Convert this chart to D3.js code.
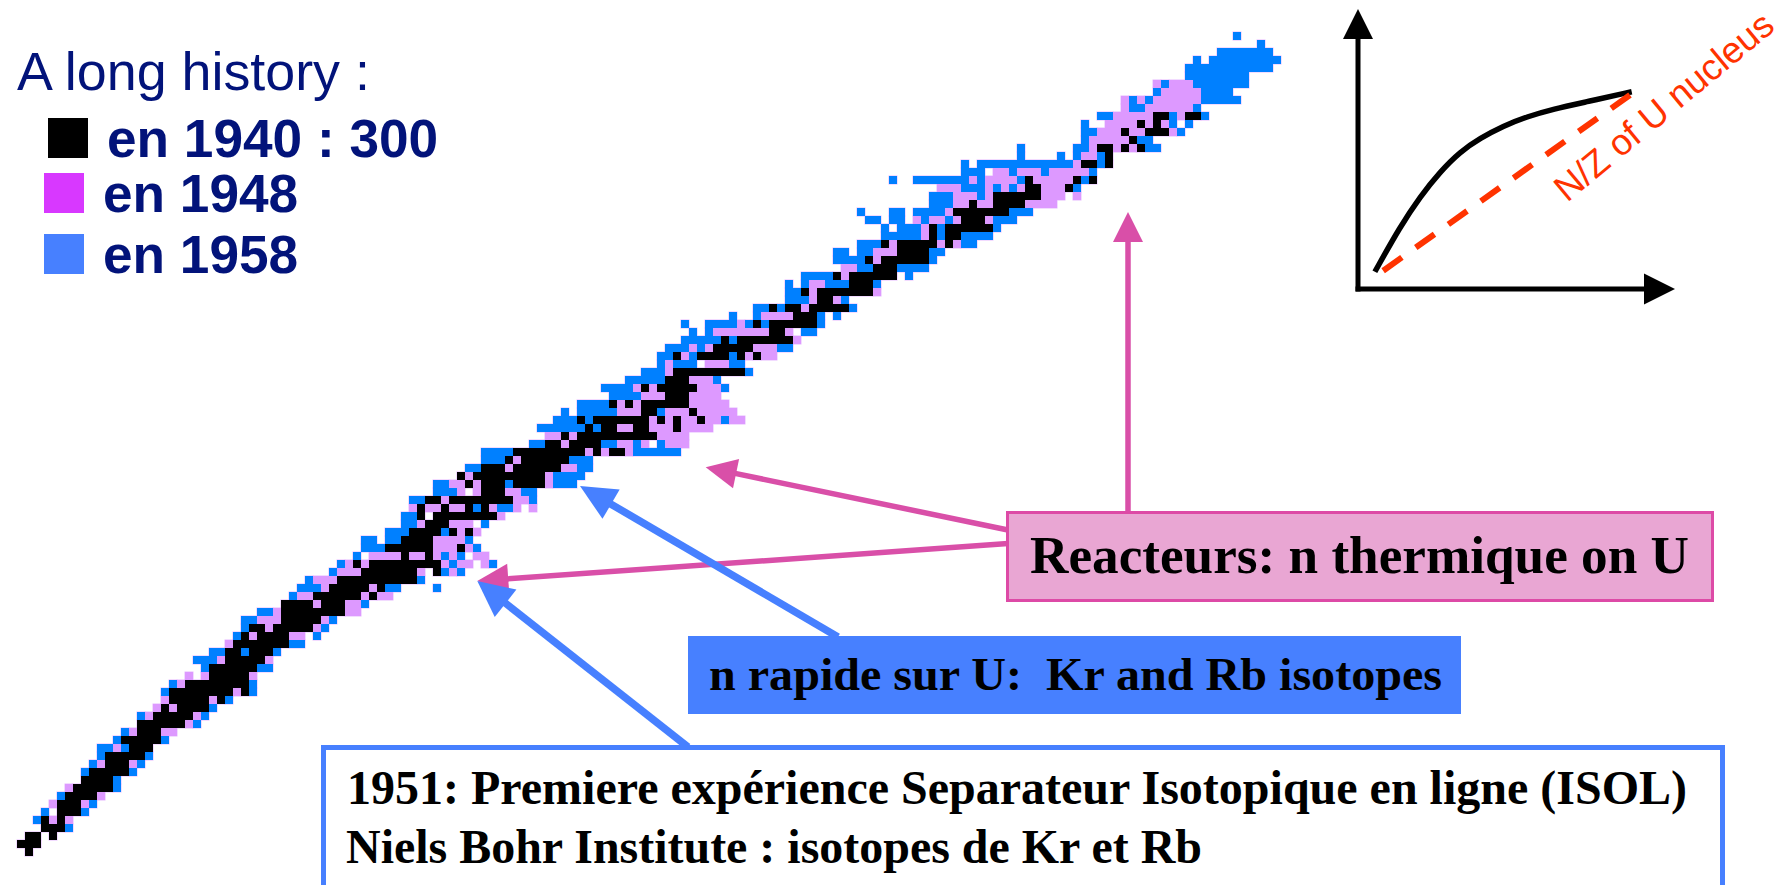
<!DOCTYPE html>
<html>
<head>
<meta charset="utf-8">
<title>A long history</title>
<script src="https://cdn.jsdelivr.net/npm/d3@7"></script>
<style>
    html, body { margin: 0; padding: 0; background: #fff; overflow: hidden; }
    text { white-space: pre; }
    .sans { font-family: "Liberation Sans", Arial, sans-serif; }
    .serif { font-family: "Liberation Serif", "Times New Roman", serif; font-weight: bold; fill: #000; }
</style>
</head>
<body>
<svg id="chart" width="1787" height="885"></svg>
<script>
// nuclide chart: [row from the top, first column, last column (if more than one)]
const known1940 = [
[14,142,143],[14,146,147],[15,140],[15,142],[16,138],[16,141,143],[17,139],[18,135,136],[18,138],[18,140],
[19,136],[20,133,134],[20,136],[22,126],[22,132],[22,134],[23,126,127],[23,131],[24,122,127],[25,119],[25,122,125],
[26,117,123],[27,118,120],[28,114],[28,116,121],[29,114],[29,116,117],[30,108],[30,110,114],[30,116],[31,110,113],
[32,106],[32,108,113],[33,107,109],[34,102],[34,104,109],[35,104,106],[36,98],[36,100,106],[37,100,101],
[38,94],[38,96,97],[38,99,103],[39,97,99],[40,92],[40,94,99],[41,94,95],[42,88],[42,90,96],[43,87,91],
[44,82],[44,85,88],[44,90],[44,92],[46,82,90],[47,81,83],[48,78],[48,80,84],[49,81,83],[50,74],[50,76],[50,78,83],
[51,78,79],[51,84],[52,70],[52,72,78],[52,80],[52,82],[52,85],[53,71],[53,73,74],[53,77,78],[53,82],
[54,68],[54,70,79],[55,66,67],[55,69,72],[56,62,70],[56,72],[56,74,75],[57,61],[57,63,68],[58,58,60],[58,62,67],
[59,55],[59,57,65],[60,56],[60,58,60],[60,62,65],[61,58,60],[62,51,52],[62,54,61],[63,50],[63,53],[63,56],[63,58],
[64,50],[64,52,59],[65,51,53],[66,49,52],[66,54],[66,56],[67,48,51],[68,46,51],[68,55],[69,48],[69,51],
[70,42],[70,44,52],[71,43,49],[71,52],[72,40,49],[73,39,43],[73,45],[74,37,42],[74,44],[75,33,36],[75,38,40],
[76,33,40],[77,33,37],[78,29,30],[78,32,36],[79,28],[79,30,33],[80,27,33],[81,26,27],[81,29,31],[82,26,30],
[83,24,29],[84,24,28],[85,21,28],[86,19,26],[86,28],[87,19,23],[87,25],[88,18],[88,20,23],[89,17,21],[90,15,20],
[91,15,17],[92,13,17],[93,14,16],[94,11,15],[95,11,13],[96,9,13],[97,8,11],[98,7,11],[99,6,9],[100,5,7],[101,5,7],
[102,3],[102,5],[103,3,5],[104,1,2],[104,4],[105,0,2],[106,1]
];

const known1948 = [
[10,142],[10,144,146],[11,143,147],[12,138],[12,140],[12,142,147],[13,138],[13,141,146],[14,137,141],[14,145],
[15,136,139],[15,141],[15,143],[16,135,137],[16,139,140],[16,144],[17,134,138],[18,134],[18,137],[18,139],
[19,133,134],[20,132],[21,122,123],[21,125,127],[21,129,133],[22,119],[22,121,124],[22,127,131],
[23,115,117],[23,121],[23,123],[23,125],[23,128,130],[24,117,119],[24,121],[24,128,130],[24,132],
[25,117,118],[25,120,121],[25,126,129],[26,116],[27,112],[27,114,115],[27,117],[27,121],[28,113],[29,113],
[30,109],[30,115],[30,117],[31,107,109],[32,107],[33,103,104],[34,103],[35,99,100],[36,99],[36,107],[37,99],[37,102],
[38,98],[39,93,96],[40,90],[41,87,93],[41,96],[42,97],[43,84],[43,86],[43,92,94],[44,83],[44,91],[44,93,94],
[45,81],[45,86,88],[46,81],[47,84,86],[48,77],[48,79],[48,85,87],[49,78,80],[49,84,87],[50,75],[50,77],[50,84,88],
[51,75,77],[51,81,83],[51,85,89],[52,79],[52,81],[52,83,84],[52,86,87],[52,89,90],[53,75,76],[53,79,81],[53,83,86],
[54,66,67],[54,69],[54,80,83],[55,68],[55,75,76],[55,78],[55,81,83],[56,71],[56,73],[56,76],[57,62],[58,61],[58,68,69],
[59,56],[59,66],[60,54,55],[60,57],[60,66],[61,55],[61,57],[61,61,62],[62,53],[62,62,63],[63,49],[63,51,52],[63,54,55],
[63,59],[63,62],[63,64],[64,60],[65,50],[65,54,56],[66,55],[66,57],[67,52,55],[68,52,54],[68,56],
[69,44,47],[69,49,50],[69,52],[69,54],[69,57,58],[70,41],[70,43],[70,53],[70,55,56],[70,58],[71,40,42],[71,50],[71,54],
[72,37,39],[73,38],[73,44],[74,35,36],[74,43],[74,45,46],[75,37],[75,41,42],[76,32],[76,41,42],[77,30,32],[77,38],
[78,31],[78,37],[79,29],[79,34,35],[80,26],[82,25],[82,31],[84,21],[84,23],[84,29],[85,20],[86,27],[87,18],[87,24],
[88,17],[88,19],[89,16],[89,22],[90,21],[91,14],[91,18,19],[93,12],[95,10],[95,14],[98,6],[99,10],[100,4],[100,8],
[102,4],[102,6]
];

const known1958 = [
[4,152],[5,155],[6,150,156],[7,147],[7,149,157],[8,146,156],[9,146,153],[10,143],[10,147,153],[11,142],[11,148,151],
[12,139],[12,141],[12,148,152],[13,139,140],[13,147],[14,135,136],[14,144],[14,148],[15,133],[15,144],[15,146],
[16,133,134],[16,145],[17,133],[17,140,141],[18,125],[18,132,133],[18,141,142],[19,125],[19,130],[19,132],[19,135],
[20,118],[20,120,131],[20,135],[21,118,120],[21,124],[21,128],[21,134],[22,109],[22,112,118],[22,120],[22,125],[22,133],
[23,118,120],[23,122],[23,124],[23,132],[24,114,116],[24,120],[25,114,116],[26,105],[26,109,110],[26,112,115],[26,124,126],
[27,106,107],[27,109,110],[27,113],[27,116],[27,122,124],[28,108],[28,110,112],[28,115],[28,122],
[29,108,112],[29,115],[29,118,121],[30,105,107],[30,118,119],[31,102,103],[31,105,106],[31,114,115],[32,102,105],[32,114],
[33,105,106],[33,110,113],[34,98,101],[34,111],[35,96],[35,98],[35,101,103],[35,107],[36,96,97],[37,96,98],[37,103],
[38,92,93],[38,95],[38,104],[39,89],[39,92],[39,100],[39,102],[40,83],[40,86,89],[40,91],[40,93],[40,100],
[41,84],[41,86],[41,98,99],[42,83,87],[42,89],[43,81,83],[43,85],[43,95,96],[44,80,81],[44,84],[44,89],
[45,80],[45,82,84],[45,89,90],[46,78,80],[46,91],[47,76,80],[47,87],[48,73,76],[48,88],[49,74,77],[50,70,73],
[51,68],[51,70,74],[51,80],[52,67,69],[52,71],[52,88],[53,65,70],[53,72],[55,64,65],[55,73,74],[55,77],[55,80],
[56,58,61],[56,77,82],[57,58,60],[57,69,71],[58,56,57],[58,70,71],[59,67,70],[60,52,53],[60,61],[60,67,69],
[61,52,54],[61,63,64],[62,49,50],[62,64],[63,57],[63,60,61],[64,48,49],[65,48,49],[65,58],[66,46,48],[66,53],
[67,43,44],[67,46,47],[67,56],[68,43,45],[68,57],[69,42],[69,53],[69,55],[70,40],[70,54],[70,59],[71,39],[71,53],[71,55],
[72,36],[72,50],[73,35,37],[73,46,47],[73,52],[74,34],[75,43],[76,30,31],[77,28,29],[77,39],[78,28],[78,38],[79,27],[79,37],
[80,34,35],[81,24,25],[81,28],[81,32],[82,22,24],[83,23],[83,30,31],[85,19],[85,29],[86,18],[86,29],[87,26],[88,24],
[89,15],[89,23],[90,22],[91,13],[92,12],[92,18],[93,10,11],[93,13],[94,10],[94,16],[95,9],[95,15],[96,8],[96,14],
[97,12],[98,12],[99,5],[100,9],[101,3],[101,8],[102,2],[103,6]
];

const legendLabels = ["en 1940 : 300", "en 1948", "en 1958"];

// inset sketch, in its own 0-100 units
const insetCurveX = [5.9, 14.7, 21.7, 28.7, 35.7, 42.7, 50.8, 59, 68.3, 80, 95.7];
const insetCurveY = [6.9, 24.9, 36.9, 46.9, 54.9, 60.3, 65.2, 68.9, 72, 74.9, 78.9];
const insetRatioX = [8.8, 95.7];
const insetRatioY = [7.3, 78.1];

const svg = d3.select('#chart');

// one cell = 8px
const x = d3.scaleLinear().domain([0, 160]).range([17, 1297]);
const y = d3.scaleLinear().domain([0, 107]).range([0, 856]);

const series = [
    {cells: known1958, color: '#0080ff'},
    {cells: known1948, color: '#dd99ff'},
    {cells: known1940, color: '#000000'}
];

const cellW = d => x((d[2] ?? d[1]) + 1) - x(d[1]);

// soft lilac edge all round the pixels
const edges = svg.append('g');
series.forEach(s => {
    edges.selectAll(null)
        .data(s.cells)
        .join('rect')
        .attr('x', d => x(d[1]))
        .attr('y', d => y(d[0]))
        .attr('width', cellW)
        .attr('height', y(1) - y(0))
        .attr('fill', 'none')
        .attr('stroke', '#e6b8ff')
        .attr('stroke-width', 1);
});

const cells = svg.append('g');
series.forEach(s => {
    cells.selectAll(null)
        .data(s.cells)
        .join('rect')
        .attr('x', d => x(d[1]))
        .attr('y', d => y(d[0]))
        .attr('width', cellW)
        .attr('height', y(1) - y(0))
        .attr('fill', s.color);
});

// LEGEND
const navy = '#02137a';
svg.append('text').attr('class', 'sans')
    .attr('x', 17).attr('y', 90)
    .attr('font-size', 53.8)
    .attr('fill', navy)
    .text('A long history :');

const legendPos = [
    {sx: 48, sy: 118, tx: 107, ty: 157, color: '#000000'},
    {sx: 44, sy: 173, tx: 103, ty: 212, color: '#d838ff'},
    {sx: 44, sy: 234, tx: 103, ty: 273, color: '#4780ff'}
];
legendLabels.forEach((label, i) => {
    const p = legendPos[i];
    svg.append('rect')
        .attr('x', p.sx).attr('y', p.sy)
        .attr('width', 40).attr('height', 40)
        .attr('fill', p.color);
    svg.append('text').attr('class', 'sans')
        .attr('x', p.tx).attr('y', p.ty)
        .attr('font-size', 53.2)
        .attr('font-weight', 'bold')
        .attr('fill', navy)
        .text(label);
});

// ARROWS
function arrow(x1, y1, x2, y2, color, width, headLen, headHalf) {
    const len = Math.hypot(x2 - x1, y2 - y1);
    const ux = (x2 - x1) / len, uy = (y2 - y1) / len;
    const bx = x2 - ux * headLen, by = y2 - uy * headLen;
    svg.append('line')
        .attr('x1', x1).attr('y1', y1)
        .attr('x2', bx + ux).attr('y2', by + uy)
        .attr('stroke', color)
        .attr('stroke-width', width);
    svg.append('polygon')
        .attr('points', [[x2, y2], [bx - uy * headHalf, by + ux * headHalf], [bx + uy * headHalf, by - ux * headHalf]].join(' '))
        .attr('fill', color);
}

const pink = '#d94fa8';
const blue = '#4780ff';
arrow(1128, 512, 1128, 212, pink, 5.5, 30, 15);
arrow(1008, 530, 705.7, 467.3, pink, 5.5, 31, 15);
arrow(1008, 543.5, 477.3, 581, pink, 5.5, 31, 15);
arrow(838, 637, 580, 486, blue, 7.5, 36, 17);
arrow(688, 747, 477.3, 581, blue, 7.5, 36, 17.5);

// BOXES
svg.append('rect')
    .attr('x', 1007.5).attr('y', 512.5)
    .attr('width', 705).attr('height', 88)
    .attr('fill', '#e9a6d3')
    .attr('stroke', '#dd4aa6')
    .attr('stroke-width', 3);
svg.append('text').attr('class', 'serif')
    .attr('x', 1030).attr('y', 573)
    .attr('font-size', 53)
    .attr('textLength', 659)
    .attr('lengthAdjust', 'spacingAndGlyphs')
    .text('Reacteurs: n thermique on U');

svg.append('rect')
    .attr('x', 688).attr('y', 636)
    .attr('width', 773).attr('height', 78)
    .attr('fill', blue);
svg.append('text').attr('class', 'serif')
    .attr('x', 709).attr('y', 690)
    .attr('font-size', 47)
    .attr('textLength', 733)
    .attr('lengthAdjust', 'spacingAndGlyphs')
    .text('n rapide sur U:  Kr and Rb isotopes');

svg.append('rect')
    .attr('x', 323.5).attr('y', 747.5)
    .attr('width', 1399).attr('height', 160)
    .attr('fill', '#fff')
    .attr('stroke', blue)
    .attr('stroke-width', 5);
svg.append('text').attr('class', 'serif')
    .attr('x', 347).attr('y', 804)
    .attr('font-size', 48)
    .attr('textLength', 1340)
    .attr('lengthAdjust', 'spacingAndGlyphs')
    .text('1951: Premiere expérience Separateur Isotopique en ligne (ISOL)');
svg.append('text').attr('class', 'serif')
    .attr('x', 346).attr('y', 862.5)
    .attr('font-size', 48)
    .attr('textLength', 856)
    .attr('lengthAdjust', 'spacingAndGlyphs')
    .text('Niels Bohr Institute : isotopes de Kr et Rb');

// INSET
const ix = d3.scaleLinear().domain([0, 100]).range([1358, 1644]);
const iy = d3.scaleLinear().domain([0, 100]).range([289, 39]);

arrow(ix(0), iy(0) + 2.5, ix(0), 9, '#000', 5, 30, 15);
arrow(ix(0) - 2.5, iy(0), 1675, iy(0), '#000', 5, 31, 15.5);

const curve = d3.line().x(d => ix(d[0])).y(d => iy(d[1])).curve(d3.curveBasis);

svg.append('path')
    .attr('d', curve(d3.zip(insetCurveX, insetCurveY)))
    .attr('fill', 'none')
    .attr('stroke', '#000')
    .attr('stroke-width', 5.5);

svg.append('path')
    .attr('d', d3.line().x(d => ix(d[0])).y(d => iy(d[1]))(d3.zip(insetRatioX, insetRatioY)))
    .attr('fill', 'none')
    .attr('stroke', '#ff3300')
    .attr('stroke-width', 6)
    .attr('stroke-dasharray', '23 17');

svg.append('text').attr('class', 'sans')
    .attr('transform', 'translate(1567,203) rotate(-39.7)')
    .attr('font-size', 36.6)
    .attr('fill', '#ff3300')
    .text('N/Z of U nucleus');
</script>
</body>
</html>
